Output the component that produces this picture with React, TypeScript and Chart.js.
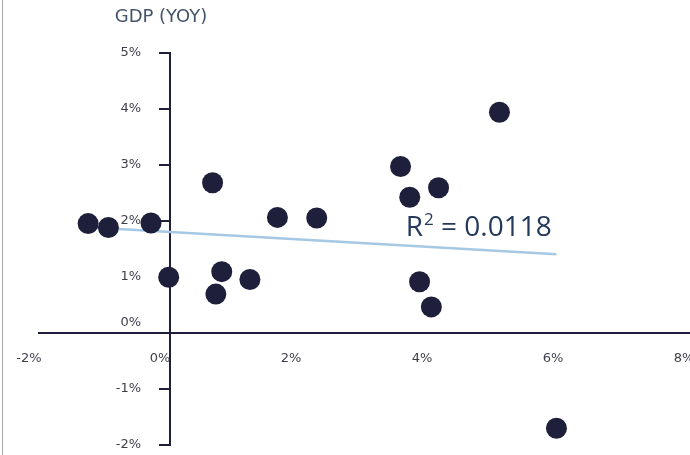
import React, { useEffect, useRef } from 'react';
import { Chart, registerables } from 'chart.js';

Chart.register(...registerables);

// Inflation (x, %) vs GDP YoY (y, %)
const inflationX = [-1.25, -0.94, -0.29, -0.02, 0.65, 0.79, 0.7, 1.22, 1.64, 2.24, 3.52, 3.66, 4.1, 3.81, 3.99, 5.03, 5.9];
const gdpY = [1.95, 1.88, 1.96, 0.99, 2.68, 1.09, 0.69, 0.95, 2.06, 2.05, 2.97, 2.42, 2.59, 0.91, 0.46, 3.94, -1.71];

// Linear trendline end points (as drawn)
const trendX = [-1.25, 5.9];
const trendY = [1.885, 1.4];

const xMin = -2;
const xMax = 8;
const xStep = 2;
const yMin = -2;
const yMax = 5;
const yStep = 1;

const yAxisTitle = 'GDP (YOY)';
const r2Label = 'R';
const r2Sup = '2';
const r2Rest = ' = 0.0118';
const r2AnchorX = 3.6;
const r2AnchorY = 1.72;

const NAVY = '#1d1f3b';
const TICK_COLOR = '#3e3f4c';
const Y_LABEL_GAP = 29;

const overlayPlugin = {
  id: 'overlayText',
  beforeDraw(chart: any) {
    const ys = chart.scales.y;
    const items = ys.getLabelItems(chart.chartArea);
    if (items && !(items as any).__shifted) {
      items.forEach((it: any) => {
        it.options.translation[0] -= Y_LABEL_GAP;
      });
      (items as any).__shifted = true;
    }
  },
  afterDraw(chart: any) {
    const { ctx, scales } = chart;
    const xs = scales.x;
    const ys = scales.y;
    ctx.save();
    // axis title
    ctx.font = '18px "DejaVu Sans"';
    ctx.fillStyle = '#44546a';
    ctx.textAlign = 'center';
    ctx.textBaseline = 'middle';
    ctx.fillText(yAxisTitle, xs.getPixelForValue(0) - 9, chart.chartArea.top - 36);

    // R² label
    const px = xs.getPixelForValue(r2AnchorX);
    const py = ys.getPixelForValue(r2AnchorY);
    ctx.textAlign = 'left';
    ctx.textBaseline = 'alphabetic';
    ctx.fillStyle = '#243a5a';
    ctx.font = '28px "Open Sans"';
    ctx.fillText(r2Label, px, py);
    const w = ctx.measureText(r2Label).width;
    ctx.font = '17px "Open Sans"';
    ctx.fillText(r2Sup, px + w + 1, py - 11);
    const w2 = ctx.measureText(r2Sup).width;
    ctx.font = '28px "Open Sans"';
    ctx.fillText(r2Rest, px + w + w2 + 1, py);
    ctx.restore();
  },
};

export default function App() {
  const canvasRef = useRef<HTMLCanvasElement | null>(null);

  useEffect(() => {
    const canvas = canvasRef.current;
    if (!canvas) return;
    const points = inflationX.map((x, i) => ({ x, y: gdpY[i] }));
    const trend = trendX.map((x, i) => ({ x, y: trendY[i] }));
    const chart = new Chart(canvas, {
      type: 'scatter',
      data: {
        datasets: [
          {
            label: 'GDP vs Inflation',
            data: points,
            backgroundColor: NAVY,
            borderColor: NAVY,
            borderWidth: 0,
            pointRadius: 10.5,
            pointHoverRadius: 10.5,
          },
          {
            label: 'Trend',
            data: trend,
            showLine: true,
            borderColor: '#a5c8e4',
            borderWidth: 2.5,
            pointRadius: 0,
            fill: false,
          } as any,
        ],
      },
      options: {
        responsive: false,
        animation: false,
        events: [],
        devicePixelRatio: 1,
        layout: { padding: { left: 39, right: 26, top: 53, bottom: 9 } },
        plugins: {
          legend: { display: false },
          tooltip: { enabled: false },
          title: { display: false },
        },
        scales: {
          x: {
            type: 'linear',
            min: xMin,
            max: xMax,
            position: { y: 0 } as any,
            grid: { display: false },
            border: { display: true, color: NAVY, width: 2 },
            ticks: {
              stepSize: xStep,
              padding: 10,
              labelOffset: -10,
              color: TICK_COLOR,
              font: { family: 'DejaVu Sans', size: 13 },
              callback: (v: any) => `${v}%`,
            },
            afterFit: (s: any) => {
              s.paddingLeft = 0;
              s.paddingRight = 0;
              s.paddingTop = 0;
              s.paddingBottom = 0;
            },
          },
          y: {
            type: 'linear',
            min: yMin,
            max: yMax,
            position: { x: 0 } as any,
            grid: {
              display: true,
              drawOnChartArea: false,
              drawTicks: true,
              tickLength: 10,
              color: NAVY,
              lineWidth: 2,
            },
            border: { display: true, color: NAVY, width: 2 },
            ticks: {
              stepSize: yStep,
              padding: 0,
              color: TICK_COLOR,
              font: { family: 'DejaVu Sans', size: 13, lineHeight: 1.55 },
              callback: (v: any) => (Number(v) === 0 ? ['0%', ''] : `${v}%`),
            },
            afterFit: (s: any) => {
              s.paddingLeft = 0;
              s.paddingRight = 0;
              s.paddingTop = 0;
              s.paddingBottom = 0;
            },
          },
        },
      },
      plugins: [overlayPlugin],
    });
    return () => chart.destroy();
  }, []);

  return (
    <div style={{ position: 'fixed', left: 0, top: 0, width: 690, height: 455, overflow: 'hidden', background: '#fff' }}>
      <div style={{ position: 'absolute', left: 2, top: 0, width: 1, height: 455, background: '#a8a8a8' }} />
      <canvas ref={canvasRef} width={720} height={455} style={{ display: 'block', width: 720, height: 455 }} />
    </div>
  );
}
